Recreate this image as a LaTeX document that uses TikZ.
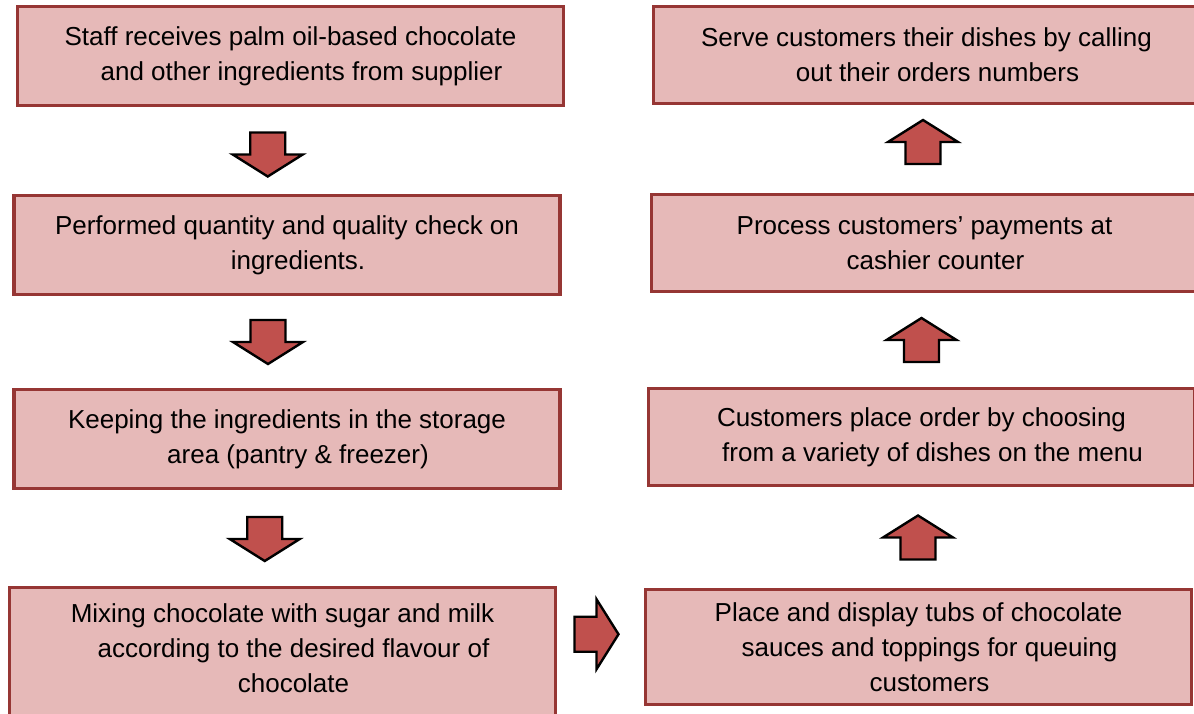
\documentclass[tikz,border=0pt]{standalone}
\usepackage{fontspec}
\setmainfont{Liberation Sans}
\usetikzlibrary{calc}

\definecolor{boxfill}{HTML}{E6B9B8}
\definecolor{boxline}{HTML}{963634}
\definecolor{arrowfill}{HTML}{C0504D}

% second and third lines sit a little to the right
\newcommand{\ind}{\hspace*{11pt}}

\tikzset{
  stepbox/.style={draw=boxline, fill=boxfill, line width=1.6pt,
    minimum width=273pt, minimum height=49.5pt, inner sep=0pt,
    align=center, font=\fontsize{13}{17.5}\selectfont},
  blockarrow/.pic={
    \draw[fill=arrowfill, line width=1.2pt, line join=miter]
      (-17.5,-22) -- (17.5,-22) -- (17.5,0) -- (35,0) -- (0,22)
      -- (-35,0) -- (-17.5,0) -- cycle;
  }
}

\begin{document}
\begin{tikzpicture}[x=0.5pt, y=-0.5pt]
    \useasboundingbox (0,0) rectangle (1194,713);
    \clip (0,0) rectangle (1194,713);

    % left column, top to bottom
    \node[stepbox] (l1) at (290.5,56) {Staff receives palm oil-based chocolate\\ \ind and other ingredients from supplier};
    \node[stepbox] (l2) at (287,245) {Performed quantity and quality check on\\ \ind ingredients.};
    \node[stepbox] (l3) at (287,439) {Keeping the ingredients in the storage\\ \ind area (pantry \& freezer)};
    \node[stepbox, minimum height=68pt, text depth=7pt] (l4) at (282.5,655.5) {Mixing chocolate with sugar and milk\\ \ind according to the desired flavour of\\ \ind chocolate};

    % right column, bottom to top
    \node[stepbox, minimum height=57.5pt] (r4) at (918.5,647) {Place and display tubs of chocolate\\ \ind sauces and toppings for queuing\\ \ind customers};
    \node[stepbox, minimum height=48.5pt] (r3) at (921.5,437) {Customers place order by choosing\\ \ind from a variety of dishes on the menu};
    \node[stepbox, minimum height=48.5pt] (r2) at (924.5,243) {Process customers’ payments at\\ \ind cashier counter};
    \node[stepbox, minimum height=48.5pt] (r1) at (926.5,55) {Serve customers their dishes by calling\\ \ind out their orders numbers};

    % block arrows between the steps
    \pic at ($(l1.south)!0.5!(l2.north)+(-21,4)$) {blockarrow};
    \pic at ($(l2.south)!0.5!(l3.north)+(-19,0)$) {blockarrow};
    \pic at ($(l3.south)!0.5!(l4.north)+(-20,1)$) {blockarrow};
    \pic[rotate=90] at ($(l4.east)!0.5!(r4.west)+(-4,-17)$) {blockarrow};
    \pic[rotate=180] at ($(r4.north)!0.5!(r3.south)+(-2,0)$) {blockarrow};
    \pic[rotate=180] at ($(r3.north)!0.5!(r2.south)+(-1.5,0)$) {blockarrow};
    \pic[rotate=180] at ($(r2.north)!0.5!(r1.south)+(-2.5,-7)$) {blockarrow};
\end{tikzpicture}
\end{document}
